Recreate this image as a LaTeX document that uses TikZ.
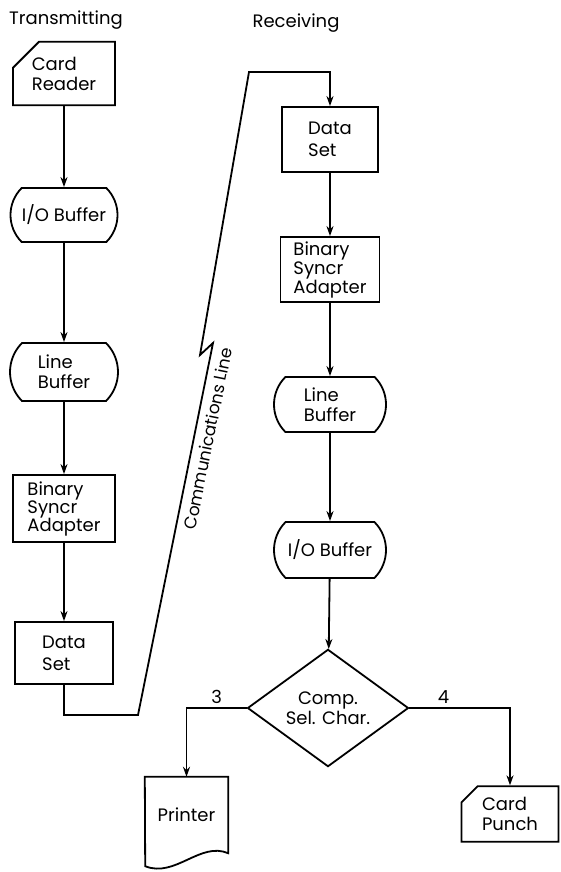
\documentclass[tikz,border=0pt]{standalone}
\usepackage{fontspec}
\setmainfont{Poppins}
\usetikzlibrary{shapes.geometric, shapes.misc, arrows.meta, positioning}

\tikzset{
	box/.style={draw, line width=1.8pt, align=left, inner sep=2pt},
	card/.style={box, chamfered rectangle, chamfered rectangle corners=north west},
	buffer/.style={box, rounded rectangle, rounded rectangle arc length=90},
	decision/.style={box, diamond, align=center, inner sep=0pt},
	flow/.style={line width=1.8pt, -{Stealth[length=10pt,width=7pt]}}
}

\begin{document}
\begin{tikzpicture}[x=1pt, y=-1pt, font=\fontsize{18}{20}\selectfont]
	\useasboundingbox (0,0) rectangle (560,872);
	\node (tx) at (66,20) {Transmitting};
	\node (rx) at (296,23) {Receiving};
	\node[card, chamfered rectangle xsep=13pt, chamfered rectangle ysep=13pt, minimum width=102pt, minimum height=49pt] (cr) at (64,73.5) {Card\\Reader};
	\node[buffer, minimum width=111pt, minimum height=54pt] (iol) at (64,215) {I/O Buffer};
	\node[buffer, minimum width=112pt, minimum height=58pt] (lbl) at (64,372) {Line\\Buffer};
	\node[box, minimum width=102pt, minimum height=67pt, font=\fontsize{18}{18}\selectfont] (bsl) at (64,508.5) {Binary\\Syncr\\Adapter};
	\node[box, minimum width=98pt, minimum height=62pt, font=\fontsize{18}{22}\selectfont] (dsl) at (64,653) {Data\\Set};
	\node[box, minimum width=96pt, minimum height=65pt, font=\fontsize{18}{22}\selectfont] (dsr) at (330,139.5) {Data\\Set};
	\node[box, minimum width=99pt, minimum height=65pt, font=\fontsize{18}{19}\selectfont] (bsr) at (330,269.5) {Binary\\Syncr\\Adapter};
	\node[buffer, minimum width=116pt, minimum height=55pt] (lbr) at (330,404.5) {Line\\Buffer};
	\node[buffer, minimum width=116pt, minimum height=56pt] (ior) at (330,550) {I/O Buffer};
	\node[decision, minimum width=161pt, minimum height=93pt] (sel) at (328,708) {Comp.\\Sel. Char.};
	\node[minimum width=83pt, minimum height=76pt, inner sep=0pt] (prn) at (186.5,815) {Printer};
	\node[card, chamfered rectangle xsep=7pt, chamfered rectangle ysep=9pt, minimum width=97pt, minimum height=42pt] (cp) at (510,814) {Card\\Punch};
	\draw[line width=1.8pt] (prn.north west) -- (prn.north east) -- (prn.south east) .. controls +(-28,-12) and +(30,12) .. ++(-83,13) -- cycle;
	\coordinate (c1) at (138,715);
	\coordinate (c2) at (213,343);
	\coordinate (c3) at (200,355);
	\coordinate (c4) at (249,72);
	\draw[flow] (cr) -- (iol);
	\draw[flow] (iol) -- (lbl);
	\draw[flow] (lbl) -- (bsl);
	\draw[flow] (bsl) -- (dsl);
	\draw[flow] (dsl.south) |- (c1) -- node[sloped, below=3pt, pos=0.75, font=\fontsize{17}{20}\selectfont]{Communications Line} (c2) -- (c3) -- (c4) -| (dsr.north);
	\draw[flow] (dsr) -- (bsr);
	\draw[flow] (bsr) -- (lbr);
	\draw[flow] (lbr) -- (ior);
	\draw[flow] (ior) -- (sel);
	\draw[flow] (sel.west) -| node[above, pos=0.25]{3} (prn.north);
	\draw[flow] (sel.east) -| node[above, pos=0.17]{4} (cp.north);
\end{tikzpicture}
\end{document}
